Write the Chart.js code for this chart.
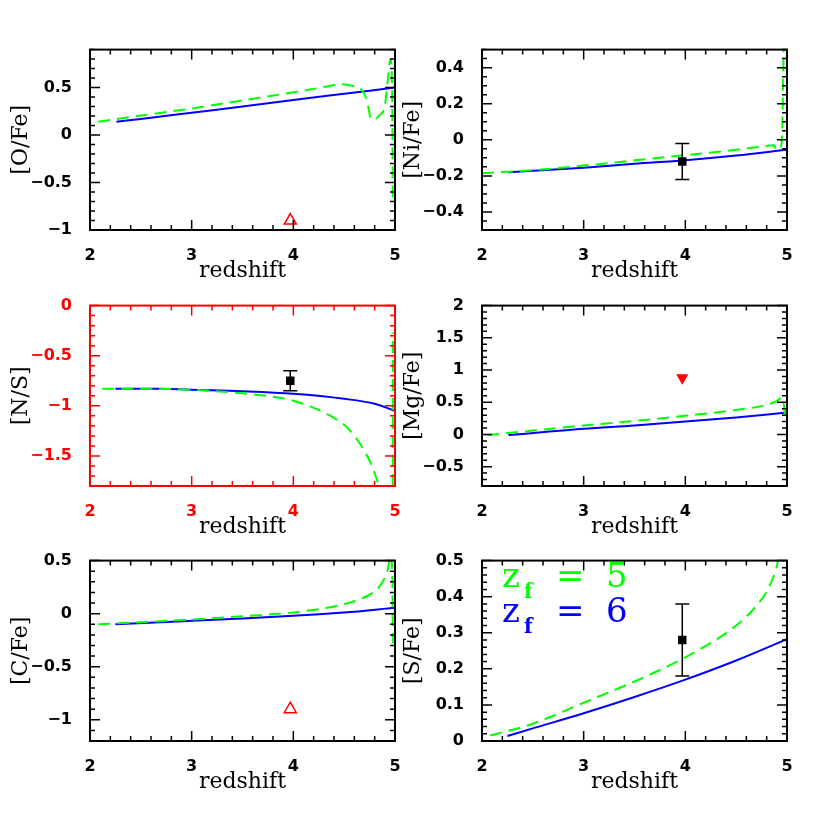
<!DOCTYPE html>
<html>
<head>
<meta charset="utf-8">
<script src="https://cdn.jsdelivr.net/npm/chart.js@4.4.0/dist/chart.umd.min.js"></script>
<style>
  html, body { margin: 0; padding: 0; background: #fff; }
  #wrap { position: relative; width: 830px; height: 830px; }
  #wrap canvas { position: absolute; }
</style>
</head>
<body>
<div id="wrap"></div>
<script>
// Curvas de modelo (z_f = 5 verde, z_f = 6 azul)
const ofeZ6x = [2.26, 2.5, 3, 3.5, 4, 4.5, 5];
const ofeZ6y = [0.14, 0.17, 0.235, 0.30, 0.37, 0.435, 0.50];
const ofeZ5x = [2.08, 2.5, 3, 3.5, 4, 4.3, 4.46, 4.58, 4.66, 4.72, 4.77, 4.85, 4.9, 4.93, 4.955, 4.972, 4.978];
const ofeZ5y = [0.14, 0.205, 0.28, 0.365, 0.45, 0.505, 0.535, 0.52, 0.49, 0.38, 0.16, 0.21, 0.31, 0.59, 0.8, 0.5, -0.66];

const nifeZ6x = [2.26, 3, 3.5, 4, 4.5, 5];
const nifeZ6y = [-0.18, -0.155, -0.133, -0.113, -0.087, -0.055];
const nifeZ5x = [2.0, 2.5, 3, 3.5, 4, 4.5, 4.75, 4.87, 4.9, 4.93, 4.95, 4.96, 4.967];
const nifeZ5y = [-0.185, -0.168, -0.143, -0.114, -0.085, -0.055, -0.038, -0.03, -0.058, -0.045, 0.0, 0.25, 0.5];

const nsZ6x = [2.25, 2.7, 3, 3.5, 4, 4.5, 4.8, 5];
const nsZ6y = [-0.83, -0.83, -0.84, -0.855, -0.88, -0.93, -0.98, -1.05];
const nsZ5x = [2.12, 2.5, 3, 3.5, 3.8, 4, 4.2, 4.4, 4.5, 4.6, 4.7, 4.78, 4.84, 4.87, 4.9, 4.978, 4.98];
const nsZ5y = [-0.83, -0.83, -0.84, -0.875, -0.91, -0.95, -1.02, -1.12, -1.19, -1.3, -1.45, -1.62, -1.8, -1.95, null, -1.8, -0.27];

const mgfeZ6x = [2.26, 3, 3.5, 4, 4.5, 5];
const mgfeZ6y = [-0.01, 0.09, 0.14, 0.2, 0.265, 0.34];
const mgfeZ5x = [2.05, 2.5, 3, 3.5, 4, 4.5, 4.8, 4.9, 4.95, 4.97, 4.98];
const mgfeZ5y = [-0.01, 0.06, 0.14, 0.21, 0.29, 0.38, 0.46, 0.52, 0.57, 0.45, 0.28];

const cfeZ6x = [2.25, 3, 3.5, 4, 4.5, 5];
const cfeZ6y = [-0.1, -0.067, -0.045, -0.02, 0.01, 0.055];
const cfeZ5x = [2.08, 2.5, 3, 3.5, 4, 4.3, 4.5, 4.65, 4.75, 4.85, 4.9, 4.93, 4.955, 4.975, 4.978];
const cfeZ5y = [-0.1, -0.08, -0.055, -0.025, 0.012, 0.05, 0.09, 0.135, 0.18, 0.26, 0.34, 0.42, 0.55, 0.3, -0.28];

const sfeZ6x = [2.25, 2.5, 3, 3.5, 4, 4.5, 5];
const sfeZ6y = [0.014, 0.035, 0.077, 0.122, 0.17, 0.223, 0.282];
const sfeZ5x = [2.08, 2.5, 3, 3.5, 4, 4.5, 4.7, 4.82, 4.9, 4.93, 4.95];
const sfeZ5y = [0.015, 0.048, 0.106, 0.165, 0.232, 0.32, 0.375, 0.425, 0.485, 0.53, 0.56];

// Observaciones (z = 3.97)
const obsZ = 3.97;
const nifeObs = [-0.12, -0.22, -0.02];   // valor, error inferior, error superior
const nsObs = [-0.75, -0.85, -0.65];
const sfeObs = [0.28, 0.18, 0.38];
const ofeLimit = -0.9;   // triangulo abierto
const cfeLimit = -0.9;   // triangulo abierto
const mgfeLimit = 0.88;  // triangulo lleno hacia abajo

const legendLabels = ['5', '6'];

const blue = '#0000ff';
const green = '#00ff00';

function pts(xs, ys) {
    return xs.map((x, i) => ({ x: x, y: ys[i] }));
}

function modelSets(x5, y5, x6, y6) {
    return [
        { data: pts(x5, y5), borderColor: green, borderWidth: 2, borderDash: [12, 7],
          pointRadius: 0, fill: false, cubicInterpolationMode: 'monotone', spanGaps: false },
        { data: pts(x6, y6), borderColor: blue, borderWidth: 2,
          pointRadius: 0, fill: false, cubicInterpolationMode: 'monotone' }
    ];
}

function squareSet(obs) {
    return { data: [{ x: obsZ, y: obs[0] }], showLine: false, pointStyle: 'rect', pointRadius: 6,
             backgroundColor: '#000', borderColor: '#000', borderWidth: 0, err: [obs[1], obs[2]] };
}

function triangleSet(v, filled) {
    return { data: [{ x: obsZ, y: v }], showLine: false, pointStyle: 'triangle', pointRadius: 7,
             pointRotation: filled ? 180 : 0, borderWidth: filled ? 0 : 1.5, borderColor: '#ff0000',
             backgroundColor: filled ? '#ff0000' : 'rgba(0,0,0,0)' };
}

const panels = [
    { title: '[O/Fe]', left: 0, top: 30, ymin: -1, ymax: 0.9, major: 0.5, minor: 0.1,
      sets: [triangleSet(ofeLimit, false)].concat(modelSets(ofeZ5x, ofeZ5y, ofeZ6x, ofeZ6y)) },
    { title: '[Ni/Fe]', left: 392, top: 30, ymin: -0.5, ymax: 0.5, major: 0.2, minor: 0.05,
      sets: [squareSet(nifeObs)].concat(modelSets(nifeZ5x, nifeZ5y, nifeZ6x, nifeZ6y)) },
    { title: '[N/S]', left: 0, top: 286, ymin: -1.8, ymax: 0, major: 0.5, minor: 0.1, color: '#ff0000',
      sets: [squareSet(nsObs)].concat(modelSets(nsZ5x, nsZ5y, nsZ6x, nsZ6y)) },
    { title: '[Mg/Fe]', left: 392, top: 286, ymin: -0.8, ymax: 2, major: 0.5, minor: 0.1,
      sets: [triangleSet(mgfeLimit, true)].concat(modelSets(mgfeZ5x, mgfeZ5y, mgfeZ6x, mgfeZ6y)) },
    { title: '[C/Fe]', left: 0, top: 541, ymin: -1.2, ymax: 0.5, major: 0.5, minor: 0.1,
      sets: [triangleSet(cfeLimit, false)].concat(modelSets(cfeZ5x, cfeZ5y, cfeZ6x, cfeZ6y)) },
    { title: '[S/Fe]', left: 392, top: 541, ymin: 0, ymax: 0.5, major: 0.1, minor: 0.02, legend: true,
      sets: [squareSet(sfeObs)].concat(modelSets(sfeZ5x, sfeZ5y, sfeZ6x, sfeZ6y)) }
];

// multiplos de "step" dentro del rango del eje
function multiples(min, max, step) {
    const out = [];
    const start = Math.ceil(min / step - 1e-6);
    const end = Math.floor(max / step + 1e-6);
    for (let k = start; k <= end; k++) out.push(Number((k * step).toFixed(4)));
    return out;
}

// Marco con marcas internas en los cuatro lados
const framePlugin = {
    id: 'frame',
    afterDatasetsDraw(chart, args, opts) {
        const { ctx, chartArea: a, scales: { x, y } } = chart;
        ctx.save();
        ctx.strokeStyle = opts.color;
        ctx.lineWidth = 1.5;
        const isMajor = (v, major) => Math.abs(v / major - Math.round(v / major)) < 1e-6;
        ctx.beginPath();
        multiples(x.min, x.max, 0.2).forEach(v => {
            const px = x.getPixelForValue(v);
            const len = isMajor(v, 1) ? 10 : 5;
            ctx.moveTo(px, a.bottom); ctx.lineTo(px, a.bottom - len);
            ctx.moveTo(px, a.top); ctx.lineTo(px, a.top + len);
        });
        multiples(y.min, y.max, opts.minor).forEach(v => {
            const py = y.getPixelForValue(v);
            const len = isMajor(v, opts.major) ? 10 : 5;
            ctx.moveTo(a.left, py); ctx.lineTo(a.left + len, py);
            ctx.moveTo(a.right, py); ctx.lineTo(a.right - len, py);
        });
        ctx.stroke();
        ctx.lineWidth = 2;
        ctx.strokeRect(a.left, a.top, a.right - a.left, a.bottom - a.top);
        ctx.restore();
    }
};

// Barras de error de las observaciones
const errorPlugin = {
    id: 'errbars',
    afterDatasetsDraw(chart) {
        const { ctx, scales: { x, y } } = chart;
        chart.data.datasets.forEach(ds => {
            if (!ds.err) return;
            const px = x.getPixelForValue(ds.data[0].x);
            const lo = y.getPixelForValue(ds.err[0]);
            const hi = y.getPixelForValue(ds.err[1]);
            ctx.save();
            ctx.strokeStyle = '#000';
            ctx.lineWidth = 1.5;
            ctx.beginPath();
            ctx.moveTo(px, lo); ctx.lineTo(px, hi);
            ctx.moveTo(px - 7, lo); ctx.lineTo(px + 7, lo);
            ctx.moveTo(px - 7, hi); ctx.lineTo(px + 7, hi);
            ctx.stroke();
            ctx.restore();
        });
    }
};

// Leyenda z_f = 5 / z_f = 6 dentro del ultimo panel
const legendPlugin = {
    id: 'zlegend',
    afterDatasetsDraw(chart, args, opts) {
        if (!opts.show) return;
        const { ctx, chartArea: a } = chart;
        const rows = [{ c: green, v: legendLabels[0], dy: 26 }, { c: blue, v: legendLabels[1], dy: 61 }];
        ctx.save();
        ctx.textBaseline = 'alphabetic';
        rows.forEach(r => {
            const x0 = a.left + 20;
            const y0 = a.top + r.dy;
            ctx.fillStyle = r.c;
            ctx.font = '34px "DejaVu Serif"';
            ctx.fillText('z', x0, y0);
            ctx.font = 'bold 20px "DejaVu Serif"';
            ctx.fillText('f', x0 + 22, y0 + 11);
            ctx.font = '34px "DejaVu Serif"';
            ctx.fillText('=', x0 + 54, y0);
            ctx.fillText(r.v, x0 + 104, y0);
        });
        ctx.restore();
    }
};

function fmt(v) {
    return String(Number(Number(v).toFixed(2))).replace('-', '\u2212');
}

const tickFont = { family: 'DejaVu Sans', size: 16, weight: 'bold' };

const wrap = document.getElementById('wrap');
panels.forEach(p => {
    const canvas = document.createElement('canvas');
    canvas.width = 410;
    canvas.height = 260;
    canvas.style.left = p.left + 'px';
    canvas.style.top = p.top + 'px';
    canvas.style.width = '410px';
    canvas.style.height = '260px';
    wrap.appendChild(canvas);
    const axisColor = p.color || '#000';
    new Chart(canvas.getContext('2d'), {
        type: 'line',
        data: { datasets: p.sets },
        plugins: [framePlugin, errorPlugin, legendPlugin],
        options: {
            responsive: false,
            animation: false,
            events: [],
            layout: { padding: { left: 0, top: 15, right: 15, bottom: 0 } },
            scales: {
                x: {
                    type: 'linear', min: 2, max: 5,
                    grid: { display: false }, border: { display: false },
                    ticks: { padding: 8, color: axisColor, font: tickFont, callback: fmt },
                    afterBuildTicks: s => { s.ticks = multiples(2, 5, 1).map(v => ({ value: v })); },
                    title: { display: true, text: 'redshift', color: '#000', padding: { bottom: 6 },
                             font: { family: 'DejaVu Serif', size: 22 } },
                    afterFit: s => { s.height = 60; }
                },
                y: {
                    type: 'linear', min: p.ymin, max: p.ymax,
                    grid: { display: false }, border: { display: false },
                    ticks: { padding: 10, color: axisColor, font: tickFont, callback: fmt },
                    afterBuildTicks: s => { s.ticks = multiples(p.ymin, p.ymax, p.major).map(v => ({ value: v })); },
                    title: { display: true, text: p.title, color: '#000', padding: { top: 8 },
                             font: { family: 'DejaVu Serif', size: 22 } },
                    afterFit: s => { s.width = 90; }
                }
            },
            plugins: {
                legend: { display: false },
                tooltip: { enabled: false },
                frame: { color: axisColor, major: p.major, minor: p.minor },
                zlegend: { show: !!p.legend }
            }
        }
    });
});
</script>
</body>
</html>
